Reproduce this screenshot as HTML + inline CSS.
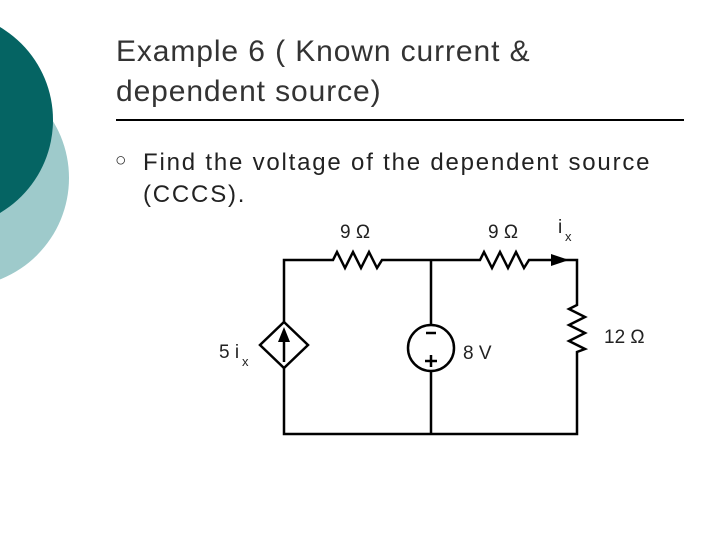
<!DOCTYPE html>
<html><head><style>
body{margin:0;width:720px;height:540px;background:#fff;overflow:hidden;position:relative;font-family:"Liberation Sans",sans-serif}
.t{position:absolute;left:116px;top:32px;font-size:30px;line-height:40px;color:#333;letter-spacing:0.9px;white-space:nowrap}
.b{position:absolute;left:143px;top:147px;font-size:24px;line-height:32px;color:#222;letter-spacing:1.8px;white-space:nowrap}
.bu{position:absolute;left:115px;top:150px;font-size:19px;color:#333}
</style></head><body>
<svg width="720" height="540" style="position:absolute;left:0;top:0">
<circle cx="-40" cy="178" r="109" fill="#9ecacb"/>
<circle cx="-55" cy="120" r="108" fill="#056463"/>
<line x1="116" y1="120" x2="684" y2="120" stroke="#000" stroke-width="2"/>
<g stroke="#000" stroke-width="2.5" fill="none">
<polyline points="284,322 284,260 333,260 337,252 345,268 353,252 361,268 369,252 377,268 382,260 480,260 484,252 492,268 500,252 508,268 516,252 524,268 529,260 577,260 577,305 569,309 585,317 569,325 585,333 569,341 585,349 577,352 577,434 284,434 284,368"/>
<line x1="431" y1="260" x2="431" y2="325"/><line x1="431" y1="371" x2="431" y2="434"/>
<circle cx="431" cy="348" r="23"/>
<polygon points="284,322 308,345 284,368 260,345"/>
<line x1="284" y1="362" x2="284" y2="340"/>
<line x1="426" y1="333" x2="436" y2="333"/>
<line x1="425" y1="361" x2="437" y2="361"/><line x1="431" y1="355" x2="431" y2="367"/>
</g>
<polygon points="284,327 278,342 290,342" fill="#000"/>
<polygon points="569,260 551,254 551,266" fill="#000"/>
<g font-family="Liberation Sans,sans-serif" font-size="19" fill="#222">
<text x="340" y="238">9 Ω</text><text x="488" y="238">9 Ω</text>
<text x="558" y="233">i</text><text x="565" y="241" font-size="13">x</text>
<text x="604" y="343">12 Ω</text><text x="463" y="359">8 V</text>
<text x="219" y="358">5 i</text><text x="242" y="366" font-size="13">x</text>
</g>
</svg>
<div class="t">Example 6 ( Known current &amp;<br>dependent source)</div>
<div class="bu">○</div>
<div class="b">Find the voltage of the dependent source<br>(CCCS).</div>
</body></html>
